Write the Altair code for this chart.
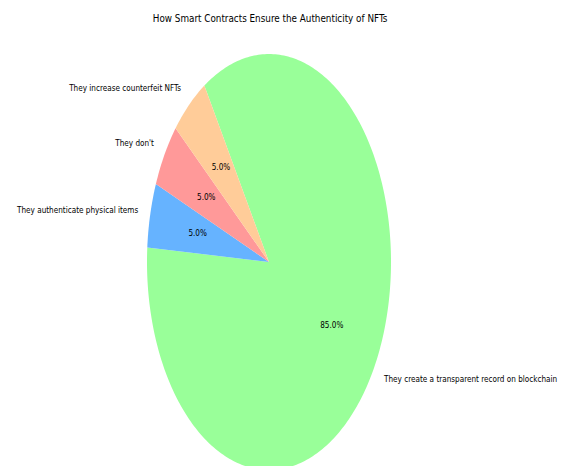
import numpy as np
import pandas as pd
import altair as alt

# ---- data ----
labels = [
    "They create a transparent record on blockchain",
    "They authenticate physical items",
    "They don't",
    "They increase counterfeit NFTs",
]
values = [85, 5, 5, 5]
colors = ["#99ff99", "#66b3ff", "#ff9999", "#ffcc99"]
title_text = "How Smart Contracts Ensure the Authenticity of NFTs"

START_DEG = 122.0  # start angle, slices drawn clockwise

# ---- derived geometry (unit circle, stretched by the axis scales) ----
total = float(sum(values))
rows, lab_rows = [], []
acc = 0.0
for k, (lab, v) in enumerate(zip(labels, values)):
    a0 = START_DEG - acc / total * 360.0
    a1 = a0 - v / total * 360.0
    acc += v
    n = max(int(abs(a1 - a0)), 2) + 1
    angs = np.linspace(a0, a1, n)
    rows.append({"slice": lab, "i": 0, "x": 0.0, "y": 0.0})
    for j, a in enumerate(angs):
        r = np.deg2rad(a)
        rows.append({"slice": lab, "i": j + 1, "x": float(np.cos(r)), "y": float(np.sin(r))})
    mid = np.deg2rad((a0 + a1) / 2.0)
    lab_rows.append({
        "slice": lab,
        "pct": f"{v / total * 100:.1f}%",
        "lx": 1.1 * float(np.cos(mid)), "ly": 1.1 * float(np.sin(mid)),
        "px": 0.6 * float(np.cos(mid)), "py": 0.6 * float(np.sin(mid)),
        "side": "left" if np.cos(mid) >= 0 else "right",
    })

poly = pd.DataFrame(rows)
lab_df = pd.DataFrame(lab_rows)

W, H = 562, 436
xs = alt.Scale(domain=[-269 / 122, (562 - 269) / 122], range=[0, W], nice=False, zero=False)
ys = alt.Scale(domain=[-(H - 232) / 208, 232 / 208], range=[H, 0], nice=False, zero=False)

FONT = "DejaVu Sans Condensed"
LBL = 8.1

base_x = alt.X("x:Q", scale=xs, axis=None)
base_y = alt.Y("y:Q", scale=ys, axis=None)

pie = alt.Chart(poly).mark_line(filled=True, interpolate="linear-closed", clip=True, strokeWidth=0).encode(
    x=base_x,
    y=base_y,
    color=alt.Color("slice:N", scale=alt.Scale(domain=labels, range=colors), legend=None),
    order=alt.Order("i:Q"),
)

lab_right = alt.Chart(lab_df).transform_filter(alt.datum.side == "right").mark_text(
    align="right", baseline="middle", font=FONT, fontSize=LBL, color="#000000"
).encode(
    x=alt.X("lx:Q", scale=xs, axis=None),
    y=alt.Y("ly:Q", scale=ys, axis=None),
    text="slice:N",
)
lab_left = alt.Chart(lab_df).transform_filter(alt.datum.side == "left").mark_text(
    align="left", baseline="middle", font=FONT, fontSize=LBL, color="#000000"
).encode(
    x=alt.X("lx:Q", scale=xs, axis=None),
    y=alt.Y("ly:Q", scale=ys, axis=None),
    text="slice:N",
)
pct = alt.Chart(lab_df).mark_text(
    align="center", baseline="middle", font=FONT, fontSize=LBL, color="#000000"
).encode(
    x=alt.X("px:Q", scale=xs, axis=None),
    y=alt.Y("py:Q", scale=ys, axis=None),
    text="pct:N",
)

chart = alt.layer(pie, lab_right, lab_left, pct).properties(
    width=W,
    height=H,
    title=alt.TitleParams(
        text=title_text, anchor="middle", font=FONT, fontSize=9.8, fontWeight="normal",
        color="#000000", offset=6, dx=-11,
    ),
    autosize=alt.AutoSizeParams(type="none"),
    padding={"left": 0, "right": 0, "top": 30, "bottom": 0},
).configure(background="#ffffff").configure_view(stroke=None)

chart.save("out.html", embed_options={"renderer": "svg", "actions": False})
